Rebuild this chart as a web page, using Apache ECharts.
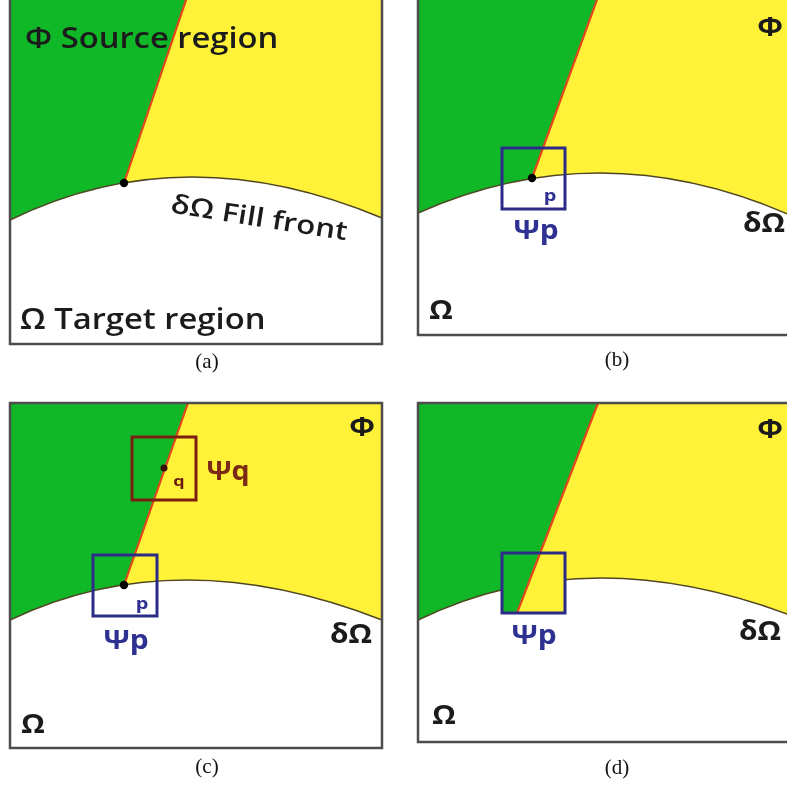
<!DOCTYPE html>
<html><head><meta charset="utf-8">
<script src="https://cdn.jsdelivr.net/npm/echarts@6/dist/echarts.min.js"></script>
<style>html,body{margin:0;padding:0;background:#fff}#c{width:787px;height:785px}</style>
</head><body><div id="c"></div><script>
// ---- panel geometry (diagram coordinates) ----
const panelIds = [0, 1, 2, 3];
const frameLeft = [10, 418, 10, 418];
const frameRight = [382, 790, 382, 790];
const frameTop = [-3, -3, 403, 403];
const frameBottom = [344, 335, 748, 742];
// boundary between source sub-regions (red line): top x, end point
const redTopX = [187, 598, 188, 598];
const redEndX = [124, 532, 124, 517];
const redEndY = [183, 178, 585, 613];
// fill front curve: left y, peak (x,y), right y
const curveLeftY = [220, 213, 620, 620];
const curvePeakX = [190, 602, 187, 595];
const curvePeakY = [177, 173, 580, 578];
const curveRightY = [218, 215, 620, 615];
const showPoint = [true, true, true, false];
const filledPatch = [false, false, false, true];
// patch squares
const patchPanel = [1, 2, 2, 3];
const patchLeft = [502, 93, 132, 502];
const patchTop = [148, 555, 437, 553];
const patchRight = [565, 157, 196, 565];
const patchBottom = [209, 616, 500, 613];
const patchKind = ['p', 'p', 'q', 'p'];
const qPointX = 164, qPointY = 468;
// ---- labels ----
const labelText = ['Φ Source region', 'δΩ Fill front', 'Ω Target region',
  'Φ', 'δΩ', 'Ω', 'Ψp', 'p',
  'Φ', 'δΩ', 'Ω', 'Ψq', 'q', 'Ψp', 'p',
  'Φ', 'δΩ', 'Ω', 'Ψp',
  '(a)', '(b)', '(c)', '(d)'];
const labelX = [25, 259, 20, 770, 764, 441, 536, 550, 362, 351, 33, 228, 179, 126, 142, 770, 760, 444, 534, 207, 617, 207, 617];
const labelY = [40, 219, 321, 29, 225, 312, 232, 196, 429, 636, 726, 473, 482, 642, 604, 431, 633, 717, 637, 362, 360, 767, 768];
const labelKind = ['title', 'tilt', 'title', 'sym', 'sym', 'sym', 'psiP', 'pSmall', 'sym', 'sym', 'sym', 'psiQ', 'qSmall', 'psiP', 'pSmall', 'sym', 'sym', 'sym', 'psiP', 'cap', 'cap', 'cap', 'cap'];

const GREEN = '#10b828', YELLOW = '#fff238', RED = '#e2461c', CURVE = '#4f4622',
  FRAME = '#4d4d4d', BLUE = '#2c2c88', BROWN = '#7a1e12', INK = '#1b1b1b';

const kindStyle = {
  title: {font: '600 28px "Open Sans", sans-serif', fill: INK, align: 'left', rot: 0, sx: 1.17},
  tilt: {font: '600 26px "Open Sans", sans-serif', fill: INK, align: 'center', rot: -9, sx: 1.2},
  sym: {font: '700 26px "Open Sans", sans-serif', fill: INK, align: 'center', rot: 0, sx: 1.15},
  psiP: {font: '700 26px "Open Sans", sans-serif', fill: '#2e3192', align: 'center', rot: 0, sx: 1.15},
  psiQ: {font: '700 26px "Open Sans", sans-serif', fill: '#7b2a14', align: 'center', rot: 0, sx: 1.1},
  pSmall: {font: '700 16px "Open Sans", sans-serif', fill: '#2e3192', align: 'center', rot: 0, sx: 1.25},
  qSmall: {font: '700 15px "Open Sans", sans-serif', fill: '#6b1e10', align: 'center', rot: 0, sx: 1.2},
  cap: {font: '21px "Liberation Serif", "Times New Roman", serif', fill: '#111', align: 'center', rot: 0, sx: 1}
};

function renderPanel(params, api) {
  const i = api.value(0);
  const pt = (x, y) => api.coord([x, y]);
  const L = frameLeft[i], R = frameRight[i], T = frameTop[i], B = frameBottom[i];
  const ex = redEndX[i], ey = redEndY[i], tx = redTopX[i];
  const xAt = (y) => tx + (ex - tx) * (y - T) / (ey - T);
  const cpx = 2 * curvePeakX[i] - (L + R) / 2;
  const cpy = 2 * curvePeakY[i] - (curveLeftY[i] + curveRightY[i]) / 2;
  const c0 = pt(L, curveLeftY[i]), cc = pt(cpx, cpy), c1 = pt(R, curveRightY[i]);
  const tl = pt(L, T), br = pt(R, B);
  const ch = [];
  ch.push({type: 'rect', shape: {x: tl[0], y: tl[1], width: br[0] - tl[0], height: br[1] - tl[1]}, style: {fill: YELLOW}});
  ch.push({type: 'polygon', shape: {points: [pt(L, T), pt(tx, T), pt(ex, ey), pt(ex, ey + 60), pt(L, ey + 60)]}, style: {fill: GREEN}});
  const bl = pt(L, B);
  const curveD = 'M' + c0[0] + ' ' + c0[1] + ' Q' + cc[0] + ' ' + cc[1] + ' ' + c1[0] + ' ' + c1[1];
  ch.push({type: 'path', shape: {pathData: curveD + ' L' + br[0] + ' ' + br[1] + ' L' + bl[0] + ' ' + bl[1] + ' Z'}, style: {fill: '#ffffff'}});
  ch.push({type: 'path', shape: {pathData: curveD}, style: {fill: null, stroke: CURVE, lineWidth: 1.4}});
  const myPatches = [];
  for (let k = 0; k < patchPanel.length; k++) if (patchPanel[k] === i) myPatches.push(k);
  if (filledPatch[i]) {
    myPatches.forEach(k => {
      const a = pt(patchLeft[k], patchTop[k]), b = pt(patchRight[k], patchBottom[k]);
      ch.push({type: 'rect', shape: {x: a[0], y: a[1], width: b[0] - a[0], height: b[1] - a[1]}, style: {fill: YELLOW}});
      ch.push({type: 'polygon', shape: {points: [pt(patchLeft[k], patchTop[k]), pt(xAt(patchTop[k]), patchTop[k]), pt(xAt(patchBottom[k]), patchBottom[k]), pt(patchLeft[k], patchBottom[k])]}, style: {fill: GREEN}});
    });
  }
  const rt = pt(tx, T), re = pt(ex, ey);
  ch.push({type: 'line', shape: {x1: rt[0], y1: rt[1], x2: re[0], y2: re[1]}, style: {stroke: RED, lineWidth: 2.2}});
  myPatches.forEach(k => {
    const a = pt(patchLeft[k], patchTop[k]), b = pt(patchRight[k], patchBottom[k]);
    ch.push({type: 'rect', shape: {x: a[0], y: a[1], width: b[0] - a[0], height: b[1] - a[1]}, style: {fill: null, stroke: patchKind[k] === 'q' ? BROWN : BLUE, lineWidth: 3}});
  });
  if (showPoint[i]) {
    ch.push({type: 'circle', shape: {cx: re[0], cy: re[1], r: 4.2}, style: {fill: '#000'}});
  }
  if (myPatches.some(k => patchKind[k] === 'q')) {
    const q = pt(qPointX, qPointY);
    ch.push({type: 'circle', shape: {cx: q[0], cy: q[1], r: 3.5}, style: {fill: '#3a0e08'}});
  }
  ch.push({type: 'rect', shape: {x: tl[0], y: tl[1], width: br[0] - tl[0], height: br[1] - tl[1]}, style: {fill: null, stroke: FRAME, lineWidth: 2.5}});
  return {type: 'group', children: ch};
}

function renderLabel(params, api) {
  const k = api.value(0);
  const s = kindStyle[labelKind[k]];
  const p = api.coord([labelX[k], labelY[k]]);
  return {
    type: 'text', x: p[0], y: p[1], rotation: s.rot * Math.PI / 180, scaleX: s.sx, scaleY: 1,
    style: {text: labelText[k], font: s.font, fill: s.fill, align: s.align, verticalAlign: 'middle'}
  };
}

const chart = echarts.init(document.getElementById('c'), null, {renderer: 'canvas'});
chart.setOption({
  animation: false,
  backgroundColor: '#ffffff',
  grid: {left: 0, right: 0, top: 0, bottom: 0},
  xAxis: {type: 'value', min: 0, max: 787, show: false},
  yAxis: {type: 'value', min: 0, max: 785, inverse: true, show: false},
  series: [
    {type: 'custom', renderItem: renderPanel, data: panelIds.map(i => [i, 0]), encode: {x: 1, y: 1}, silent: true},
    {type: 'custom', renderItem: renderLabel, data: labelText.map((t, k) => [k, 0]), encode: {x: 1, y: 1}, silent: true}
  ]
});
</script></body></html>
